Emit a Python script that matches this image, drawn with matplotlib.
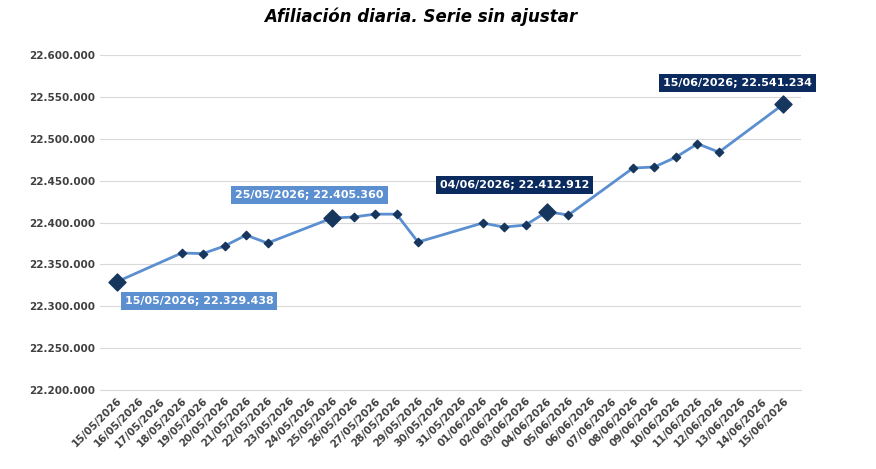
import matplotlib.pyplot as plt
import numpy as np
import datetime as dt

# all calendar days shown on the axis
start = dt.date(2026, 5, 15)
days = [start + dt.timedelta(days=i) for i in range(32)]
tick_labels = [d.strftime('%d/%m/%Y') for d in days]

# data only on working days
data_dates = ['15/05/2026', '18/05/2026', '19/05/2026', '20/05/2026', '21/05/2026', '22/05/2026',
              '25/05/2026', '26/05/2026', '27/05/2026', '28/05/2026', '29/05/2026',
              '01/06/2026', '02/06/2026', '03/06/2026', '04/06/2026', '05/06/2026',
              '08/06/2026', '09/06/2026', '10/06/2026', '11/06/2026', '12/06/2026', '15/06/2026']
values = [22329438, 22363600, 22363000, 22372000, 22385000, 22375500,
          22405360, 22406600, 22410000, 22410000, 22376700,
          22399400, 22394600, 22397000, 22412912, 22409000,
          22465000, 22466300, 22478000, 22494000, 22484000, 22541234]
highlight = ['15/05/2026', '25/05/2026', '04/06/2026', '15/06/2026']

x = [tick_labels.index(d) for d in data_dates]

fig = plt.figure(figsize=(8.76, 4.69), dpi=100)
ax = fig.add_axes([0.114, 0.168, 0.8, 0.715])

line_c = '#5b8fd0'
ax.plot(x, values, color=line_c, lw=2, zorder=2)
ax.scatter(x, values, marker='D', s=18, color='#17365d', zorder=3)
hx = [tick_labels.index(d) for d in highlight]
hv = [values[data_dates.index(d)] for d in highlight]
ax.scatter(hx, hv, marker='D', s=75, color='#17365d', zorder=4)

def fmt(v):
    return f'{v:,}'.replace(',', '.')

light = '#5b8fd0'
dark = '#0b2a5e'
# label box positions (left edge, centre y)
box_pos = [(0.35, 22306300, light), (5.5, 22432800, light),
           (15.0, 22444800, dark), (25.4, 22566500, dark)]
for d, v, (bx, by, c) in zip(highlight, hv, box_pos):
    ax.text(bx, by, f'{d}; {fmt(v)}', color='white', fontweight='bold', fontsize=8,
            ha='left', va='center', bbox=dict(boxstyle='square,pad=0.35', fc=c, ec='none'), zorder=5)

ax.set_xlim(-0.8, 31.8)
ax.set_ylim(22200000, 22600000)
ax.set_yticks(np.arange(22200000, 22600001, 50000))
ax.set_yticklabels([fmt(int(t)) for t in ax.get_yticks()], fontsize=7.5, fontweight='bold', color='#404040')
ax.set_xticks(range(32))
ax.set_xticklabels(tick_labels, rotation=45, ha='right', rotation_mode='anchor', fontsize=7.5,
                   fontweight='bold', color='#404040')
ax.grid(axis='y', color='#d9d9d9', lw=0.8)
ax.set_axisbelow(True)
for s in ['top', 'right', 'left']:
    ax.spines[s].set_visible(False)
ax.spines['bottom'].set_color('#d9d9d9')
ax.tick_params(length=0)
ax.tick_params(axis='x', pad=4)

fig.text(0.48, 0.965, 'Afiliación diaria. Serie sin ajustar', ha='center', va='center',
         fontsize=12, fontweight='bold', fontstyle='italic')
fig.savefig('out.png', dpi=100)
